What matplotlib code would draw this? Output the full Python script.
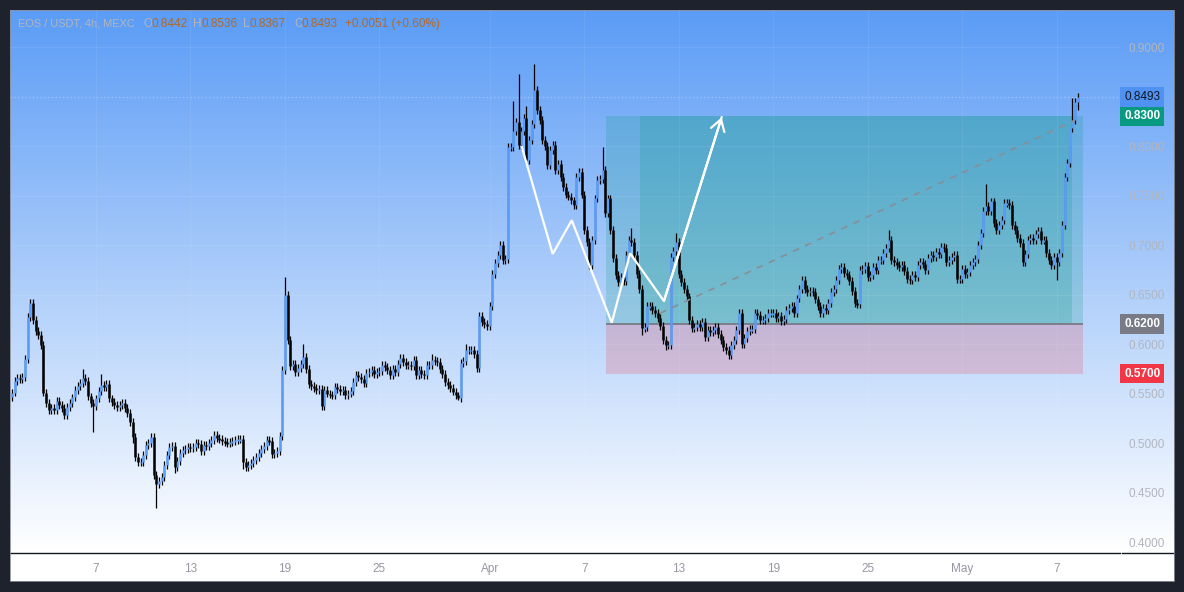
import numpy as np
import pandas as pd
import matplotlib.pyplot as plt
import matplotlib.dates as mdates
from matplotlib.colors import LinearSegmentedColormap
from matplotlib.patches import Rectangle
from matplotlib.lines import Line2D
from matplotlib.transforms import blended_transform_factory

plt.rcParams['font.family'] = ['Liberation Sans', 'DejaVu Sans']

# ---- data: EOS/USDT 4h candles, first candle 2025-03-01 16:00 ----
start = '2025-03-01 16:00'
open0 = 0.546
closes = [
    0.551, 0.563, 0.566, 0.565, 0.567, 0.585, 0.627, 0.641, 0.624, 0.613,
    0.609, 0.599, 0.551, 0.540, 0.533, 0.535, 0.533, 0.542, 0.538, 0.535,
    0.528, 0.536, 0.540, 0.546, 0.554, 0.558, 0.561, 0.566, 0.563, 0.547,
    0.540, 0.537, 0.545, 0.553, 0.559, 0.557, 0.560, 0.545, 0.541, 0.538,
    0.536, 0.538, 0.540, 0.535, 0.530, 0.521, 0.506, 0.486, 0.481, 0.481,
    0.488, 0.498, 0.500, 0.506, 0.468, 0.459, 0.462, 0.466, 0.478, 0.488,
    0.496, 0.497, 0.476, 0.482, 0.490, 0.493, 0.494, 0.496, 0.495, 0.496,
    0.500, 0.499, 0.492, 0.498, 0.497, 0.500, 0.503, 0.508, 0.505, 0.504,
    0.502, 0.501, 0.500, 0.501, 0.502, 0.503, 0.504, 0.504, 0.481, 0.476,
    0.478, 0.480, 0.483, 0.486, 0.490, 0.494, 0.497, 0.503, 0.502, 0.489,
    0.490, 0.492, 0.507, 0.574, 0.650, 0.604, 0.578, 0.580, 0.572, 0.576,
    0.580, 0.587, 0.575, 0.560, 0.558, 0.556, 0.554, 0.555, 0.537, 0.554,
    0.550, 0.549, 0.548, 0.557, 0.555, 0.553, 0.554, 0.548, 0.550, 0.553,
    0.562, 0.569, 0.567, 0.565, 0.561, 0.571, 0.572, 0.574, 0.570, 0.572,
    0.573, 0.579, 0.577, 0.574, 0.569, 0.575, 0.572, 0.580, 0.586, 0.582,
    0.579, 0.579, 0.578, 0.584, 0.569, 0.574, 0.570, 0.569, 0.579, 0.579,
    0.584, 0.583, 0.582, 0.575, 0.570, 0.562, 0.559, 0.556, 0.552, 0.548,
    0.545, 0.581, 0.583, 0.594, 0.594, 0.594, 0.590, 0.576, 0.628, 0.622,
    0.620, 0.618, 0.638, 0.671, 0.682, 0.690, 0.700, 0.685, 0.686, 0.799,
    0.799, 0.815, 0.824, 0.801, 0.815, 0.828, 0.786, 0.806, 0.822, 0.857,
    0.836, 0.826, 0.806, 0.800, 0.781, 0.796, 0.801, 0.776, 0.782, 0.769,
    0.759, 0.751, 0.749, 0.745, 0.740, 0.769, 0.774, 0.751, 0.715, 0.703,
    0.680, 0.705, 0.747, 0.766, 0.767, 0.776, 0.732, 0.747, 0.715, 0.687,
    0.670, 0.663, 0.668, 0.664, 0.690, 0.705, 0.703, 0.690, 0.671, 0.656,
    0.616, 0.617, 0.638, 0.638, 0.634, 0.631, 0.626, 0.618, 0.604, 0.599,
    0.599, 0.688, 0.694, 0.703, 0.671, 0.663, 0.656, 0.648, 0.624, 0.616,
    0.617, 0.620, 0.617, 0.622, 0.607, 0.614, 0.612, 0.614, 0.617, 0.610,
    0.604, 0.597, 0.594, 0.589, 0.599, 0.604, 0.614, 0.631, 0.600, 0.606,
    0.613, 0.615, 0.615, 0.631, 0.629, 0.624, 0.624, 0.626, 0.631, 0.631,
    0.631, 0.626, 0.628, 0.623, 0.625, 0.634, 0.636, 0.638, 0.631, 0.646,
    0.656, 0.665, 0.656, 0.653, 0.654, 0.653, 0.645, 0.638, 0.631, 0.636,
    0.634, 0.641, 0.653, 0.656, 0.665, 0.676, 0.678, 0.672, 0.670, 0.664,
    0.654, 0.641, 0.640, 0.675, 0.676, 0.679, 0.668, 0.670, 0.678, 0.675,
    0.685, 0.685, 0.692, 0.697, 0.705, 0.685, 0.683, 0.680, 0.678, 0.680,
    0.674, 0.666, 0.665, 0.670, 0.668, 0.680, 0.683, 0.681, 0.675, 0.687,
    0.690, 0.688, 0.693, 0.691, 0.698, 0.697, 0.683, 0.685, 0.688, 0.690,
    0.666, 0.666, 0.676, 0.671, 0.673, 0.680, 0.683, 0.686, 0.700, 0.712,
    0.734, 0.739, 0.734, 0.744, 0.722, 0.715, 0.720, 0.725, 0.742, 0.742,
    0.740, 0.720, 0.715, 0.707, 0.702, 0.683, 0.691, 0.705, 0.707, 0.705,
    0.711, 0.714, 0.705, 0.705, 0.692, 0.685, 0.680, 0.688, 0.683, 0.692,
    0.720, 0.769, 0.783, 0.818, 0.826, 0.8442, 0.8493,
]
# long wicks that stand out (candle index -> price)
high_wicks = {7: 0.6455, 27: 0.575, 34: 0.570, 104: 0.668, 111: 0.600, 160: 0.590,
              173: 0.600, 191: 0.845, 193: 0.873, 196: 0.840, 199: 0.883, 225: 0.799,
              236: 0.717, 253: 0.712, 334: 0.715, 371: 0.762, 403: 0.800, 404: 0.849,
              406: 0.8536}
low_wicks = {31: 0.511, 46: 0.500, 55: 0.434, 62: 0.470, 88: 0.474, 118: 0.533,
             170: 0.543, 240: 0.609, 249: 0.594, 273: 0.585, 398: 0.665, 406: 0.8367}

ytick_vals = [0.40, 0.45, 0.50, 0.55, 0.60, 0.65, 0.70, 0.75, 0.80, 0.90]
xtick_dates = ['2025-03-07', '2025-03-13', '2025-03-19', '2025-03-25', '2025-04-01',
               '2025-04-07', '2025-04-13', '2025-04-19', '2025-04-25', '2025-05-01',
               '2025-05-07']
xtick_labels = ['7', '13', '19', '25', 'Apr', '7', '13', '19', '25', 'May', '7']

# long position tool
pos_left, pos_right = '2025-04-08 09:00', '2025-05-08 15:30'
seen_left, seen_right = '2025-04-10 13:00', '2025-05-07 23:00'
target, entry, stop = 0.83, 0.62, 0.57
last_price = 0.8493

# hand drawn wave + arrow
wave_dates = ['2025-04-03 01:00', '2025-04-05 00:00', '2025-04-06 05:00', '2025-04-08 18:00',
              '2025-04-09 22:00', '2025-04-12 01:30', '2025-04-15 17:30']
wave_prices = [0.799, 0.691, 0.725, 0.6215, 0.6916, 0.6434, 0.829]
dash_dates = ['2025-04-11 19:30', '2025-05-08 04:00']
dash_prices = [0.631, 0.826]

# ---- figure ----
W, H = 1184, 592
fig = plt.figure(figsize=(W / 100, H / 100), dpi=100, facecolor='#1e222d')


def px_rect(x0, y0, x1, y1):
    return [x0 / W, 1 - y1 / H, (x1 - x0) / W, (y1 - y0) / H]


def dnum(s):
    return mdates.date2num(pd.Timestamp(s).to_pydatetime())


# gradient background incl. price scale
bg = fig.add_axes(px_rect(10, 10, 1174, 553), zorder=0)
cmap = LinearSegmentedColormap.from_list('bg', ['#5b9cf6', '#ffffff'])
bg.imshow(np.linspace(0, 1, 256).reshape(-1, 1), cmap=cmap, aspect='auto',
          extent=[0, 1, 0, 1])
bg.axis('off')

# white time scale strip
fig.add_artist(Rectangle((10 / W, 1 - 581 / H), 1164 / W, 28 / H, transform=fig.transFigure,
                         fc='white', ec='none', zorder=0))
fig.add_artist(Line2D([1122 / W, 1174 / W], [1 - 553 / H] * 2, transform=fig.transFigure,
                      color='#131722', lw=1))
fig.add_artist(Rectangle((10 / W, 1 - 581 / H), 1164 / W, 571 / H, transform=fig.transFigure,
                         fc='none', ec='#8c8f99', lw=0.6, zorder=10))

ax = fig.add_axes(px_rect(10, 10, 1120, 553), zorder=2)
ax.set_facecolor('none')

x = mdates.date2num(pd.date_range(start, periods=len(closes), freq='4h').to_pydatetime())
c = np.array(closes)
o = np.r_[open0, c[:-1]]
pad = 0.004
hi = np.maximum(o, c) + pad
lo = np.minimum(o, c) - pad
for i, v in high_wicks.items():
    hi[i] = v
for i, v in low_wicks.items():
    lo[i] = v
up = c >= o
top = np.maximum(o, c)
bot = np.minimum(o, c)
bot = np.where(top - bot < 0.0015, top - 0.0015, bot)

ax.vlines(x, lo, hi, color='black', lw=0.9, zorder=3)
ax.vlines(x[up], bot[up], top[up], color='#5b9cf6', lw=1.8, zorder=4)
ax.vlines(x[~up], bot[~up], top[~up], color='black', lw=1.8, zorder=4)

# position tool
pl, pr = dnum(pos_left), dnum(pos_right)
sl, sr = dnum(seen_left), dnum(seen_right)
ax.add_patch(Rectangle((pl, entry), pr - pl, target - entry, fc='#089981', alpha=0.2,
                       ec='none', zorder=1))
ax.add_patch(Rectangle((sl, entry), sr - sl, target - entry, fc='#089981', alpha=0.2,
                       ec='none', zorder=1))
ax.add_patch(Rectangle((pl, stop), pr - pl, entry - stop, fc='#f23645', alpha=0.2,
                       ec='none', zorder=1))
ax.hlines(entry, pl, pr, color='#787b86', lw=1.3, zorder=2)
ax.plot([dnum(d) for d in dash_dates], dash_prices, color='#8a8d96', lw=1.2,
        ls=(0, (4, 4)), zorder=5)

# last price dotted line
ax.axhline(last_price, color='#a3c5fb', lw=0.9, ls=(0, (1, 2)), zorder=2)

# wave drawing
wx = [dnum(d) for d in wave_dates]
ax.plot(wx, wave_prices, color='white', lw=1.6, zorder=6, solid_joinstyle='miter')
ax.annotate('', xy=(wx[-1], wave_prices[-1]), xytext=(wx[-2], wave_prices[-2]),
            arrowprops=dict(arrowstyle='->,head_length=0.8,head_width=0.5', color='white',
                            lw=1.6, shrinkA=0, shrinkB=0), zorder=6)

# axes styling
ax.set_xlim(dnum('2025-03-01 13:00'), dnum('2025-05-11 00:30'))
ax.set_ylim(0.3889, 0.9374)
for s in ['top', 'left', 'right']:
    ax.spines[s].set_visible(False)
ax.spines['bottom'].set_color('#131722')
ax.spines['bottom'].set_linewidth(1)

ax.yaxis.tick_right()
ax.set_yticks(ytick_vals)
ax.set_yticklabels(['%.4f' % v for v in ytick_vals])
ax.tick_params(axis='y', length=0, pad=6, labelsize=8.5, labelcolor='#b2b5be')
ax.set_xticks([dnum(d) for d in xtick_dates])
ax.set_xticklabels(xtick_labels)
ax.tick_params(axis='x', length=0, pad=7, labelsize=8.5, labelcolor='#9598a1')
ax.grid(color='white', alpha=0.07, lw=0.8)

# price badges
tr = blended_transform_factory(ax.transAxes, ax.transData)
badges = [(last_price, '0.8493', '#4f92f2', '#131722', 'normal'),
          (target, '0.8300', '#089981', 'white', 'bold'),
          (entry, '0.6200', '#787b86', 'white', 'bold'),
          (stop, '0.5700', '#f23645', 'white', 'bold')]
for yv, txt, fc, tc, fw in badges:
    ax.text(1.0038, yv, txt, transform=tr, ha='left', va='center', fontsize=8.5,
            color=tc, fontweight=fw, clip_on=False, zorder=8,
            bbox=dict(boxstyle='square,pad=0.32', fc=fc, ec='none'))

# header legend
gray, orange = '#b2b5be', '#b06a26'
parts = [(18, 'EOS / USDT, 4h, MEXC', gray, 7.9), (143, 'O', gray, 8.5),
         (151, '0.8442', orange, 8.5), (193, 'H', gray, 8.5), (201, '0.8536', orange, 8.5),
         (243, 'L', gray, 8.5), (250, '0.8367', orange, 8.5), (294, 'C', gray, 8.5),
         (302, '0.8493', orange, 8.5), (345, '+0.0051 (+0.60%)', orange, 8.5)]
for px, txt, col, fs in parts:
    fig.text(px / W, 1 - 24 / H, txt, color=col, fontsize=fs, ha='left', va='center')

fig.savefig('out.png', dpi=100, facecolor=fig.get_facecolor())
